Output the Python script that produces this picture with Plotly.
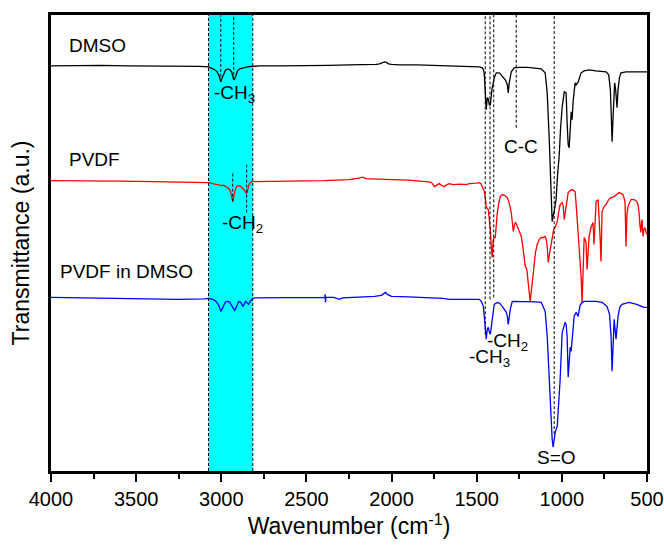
import plotly.graph_objects as go

# ---------------- data ----------------
dmso_wn = [4000, 3850, 3700, 3550, 3400, 3250, 3127, 3074, 3050, 3038, 3025, 3015, 3008, 3003, 2997,
           2986, 2975, 2962, 2950, 2939, 2932, 2927, 2921, 2915, 2905, 2892, 2870, 2845, 2820, 2775,
           2650, 2540, 2450, 2364, 2250, 2130, 2090, 2071, 2050, 2042, 2030, 2018, 2000, 1954, 1850,
           1750, 1660, 1560, 1485, 1467, 1460, 1455, 1450, 1444, 1438, 1432, 1426, 1420, 1414, 1409,
           1397, 1385, 1367, 1350, 1332, 1320, 1315, 1309, 1297, 1280, 1250, 1200, 1150, 1121, 1098,
           1086, 1074, 1063, 1057, 1050, 1045, 1039, 1034, 1025, 1016, 1008, 998, 986, 975, 969,
           963, 957, 951, 945, 940, 933, 922, 916, 904, 893, 887, 870, 840, 800, 740,
           725, 715, 710, 705, 700, 693, 690, 684, 680, 676, 670, 662, 653, 623, 560, 500]
dmso_t = [406, 406.5, 406.5, 406, 406, 405.5, 405.5, 405, 403.5, 402, 400, 397, 393, 390, 393,
          398, 402, 403, 402, 400, 396, 392, 393, 396, 401, 403, 404, 405, 405.5, 406,
          406, 406, 406.5, 406.5, 407, 407, 407.5, 408, 409, 410, 409.5, 408, 407.5, 407, 407,
          406.5, 406.5, 406, 405, 404, 402, 397, 382, 362, 374, 373, 367, 367, 377, 384,
          394, 399, 399, 395, 392, 387, 379, 389, 400, 404, 404.5, 404.5, 404, 403, 399,
          379, 332, 282, 250, 257, 260, 267, 272, 297, 315, 342, 365, 380, 379, 349,
          327, 324, 342, 360, 352, 372, 389, 387, 390, 396, 399, 401, 402, 401, 400,
          397, 382, 357, 330, 352, 382, 389, 382, 372, 364, 382, 394, 399, 400, 400, 400]

pvdf_wn = [4000, 3800, 3600, 3400, 3200, 3074, 3050, 3027, 3010, 2997, 2985, 2968, 2955, 2945, 2938,
           2933, 2928, 2920, 2910, 2900, 2892, 2880, 2865, 2856, 2851, 2845, 2835, 2822, 2800, 2600,
           2400, 2250, 2190, 2171, 2150, 2100, 2000, 1900, 1800, 1770, 1760, 1749, 1740, 1730, 1720,
           1705, 1690, 1675, 1661, 1640, 1600, 1561, 1544, 1500, 1485, 1475, 1467, 1455, 1450, 1444,
           1438, 1432, 1426, 1420, 1414, 1409, 1403, 1397, 1391, 1385, 1379, 1370, 1362, 1350, 1335,
           1320, 1310, 1297, 1290, 1285, 1279, 1274, 1268, 1262, 1250, 1238, 1227, 1215, 1209, 1204,
           1198, 1192, 1186, 1180, 1174, 1168, 1162, 1155, 1145, 1133, 1121, 1110, 1098, 1092, 1086,
           1080, 1074, 1068, 1057, 1048, 1039, 1027, 1018, 1010, 998, 992, 986, 980, 975, 968,
           963, 950, 940, 930, 922, 916, 910, 904, 893, 887, 881, 875, 869, 863, 858,
           852, 846, 840, 829, 823, 817, 811, 805, 799, 787, 781, 775, 770, 764, 752,
           741, 725, 711, 693, 680, 664, 650, 641, 635, 629, 623, 618, 612, 600, 594,
           575, 559, 553, 547, 542, 536, 532, 529, 526, 523, 518, 512, 505, 500]
pvdf_t = [291, 291, 290.5, 290, 289.5, 289, 288, 287, 287, 286, 286.5, 284, 283, 280, 275,
          270, 274, 281, 285, 286, 286, 284, 282, 279, 278, 282, 288, 290, 290, 290.5,
          291, 292, 293.5, 294.5, 293, 292.5, 292, 291.5, 290, 289.5, 288, 285, 286, 287, 288,
          286, 285, 287, 288, 287, 287.5, 287, 288, 288.5, 289, 288, 284, 280, 274, 265,
          263, 262, 252, 242, 224, 214, 232, 234, 234, 247, 259, 269, 275, 277, 276,
          274, 269, 259, 247, 240, 246, 249, 248, 245, 240, 235, 222, 205, 204, 200,
          189, 180, 170, 179, 189, 200, 209, 219, 227, 232, 234, 234, 235, 232, 225,
          209, 216, 222, 237, 242, 244, 250, 260, 267, 269, 266, 252, 260, 267, 275,
          279, 281, 282, 281, 280, 267, 254, 235, 210, 195, 169, 202, 234, 232, 229,
          202, 222, 235, 244, 247, 249, 227, 252, 270, 272, 257, 232, 210, 260, 265,
          267, 272, 274, 275, 277, 279, 278, 277, 274, 269, 225, 257, 265, 271, 272,
          272, 270, 267, 260, 247, 239, 250, 252, 242, 235, 242, 244, 239, 237]

mix_wn = [4000, 3800, 3600, 3400, 3250, 3100, 3074, 3050, 3030, 3015, 3008, 3003, 2997, 2985, 2975,
          2962, 2950, 2940, 2930, 2921, 2915, 2905, 2898, 2885, 2874, 2866, 2857, 2850, 2840, 2830,
          2815, 2800, 2600, 2450, 2392, 2390, 2388, 2386, 2340, 2306, 2290, 2200, 2100, 2060, 2040,
          2036, 2025, 2000, 1900, 1800, 1700, 1660, 1560, 1485, 1473, 1461, 1455, 1450, 1444, 1438,
          1432, 1426, 1420, 1414, 1409, 1397, 1379, 1365, 1350, 1326, 1320, 1315, 1309, 1303, 1291,
          1250, 1191, 1150, 1121, 1098, 1086, 1074, 1063, 1057, 1051, 1045, 1039, 1027, 1018, 1010,
          998, 981, 975, 969, 963, 957, 951, 945, 938, 928, 916, 904, 893, 880, 869,
          800, 764, 735, 720, 711, 705, 699, 693, 682, 676, 670, 660, 647, 606, 560, 518, 500]
mix_t = [174, 173.5, 173, 172, 172, 172.5, 173, 172, 170, 166, 162, 160, 162, 167, 169.5,
         170, 169, 166, 163, 161, 163, 168, 170, 169, 165, 167, 170, 169, 167, 170,
         173, 173.5, 174, 174, 174, 177, 169, 174, 174, 172, 173.5, 174, 175, 176, 178.5,
         179, 177, 175, 174.5, 174, 173, 172, 172, 172, 170, 165, 154, 139, 132, 142,
         144, 139, 137, 145, 152, 167, 169, 168, 165, 159, 155, 147, 154, 162, 170,
         170, 170, 169.5, 169, 160, 135, 92, 49, 32, 24, 32, 39, 45, 67, 92,
         139, 149, 147, 135, 94, 112, 124, 120, 137, 155, 159, 155, 166, 169, 170,
         170, 169, 165, 157, 135, 100, 127, 152, 132, 142, 155, 164, 167, 169, 167, 164, 164]

x_ticks = [4000, 3500, 3000, 2500, 2000, 1500, 1000, 500]
band_region = [3075, 2815]          # shaded C-H stretching region
# guide lines: wavenumber, lower end, upper end (a.u.)
guide_wn = [3003, 2927, 2933, 2851, 1450, 1422, 1400, 1268, 1045]
guide_lo = [390, 392, 270, 259, 137, 172, 174, 344, 37]
guide_hi = [457, 457, 299, 307, 457, 457, 457, 457, 457]
y_range = [0, 457]

FONT = "Liberation Sans, Arial, sans-serif"

fig = go.Figure()
fig.add_trace(go.Scatter(x=dmso_wn, y=dmso_t, mode="lines", line=dict(color="black", width=1.3), name="DMSO"))
fig.add_trace(go.Scatter(x=pvdf_wn, y=pvdf_t, mode="lines", line=dict(color="#ff0000", width=1.3), name="PVDF"))
fig.add_trace(go.Scatter(x=mix_wn, y=mix_t, mode="lines", line=dict(color="#0000ff", width=1.3), name="PVDF in DMSO"))

shapes = [dict(type="rect", xref="x", yref="paper", x0=band_region[0], x1=band_region[1], y0=0, y1=1,
               fillcolor="#00ffff", line=dict(width=0), layer="below")]
for xb in band_region:
    shapes.append(dict(type="line", xref="x", yref="paper", x0=xb, x1=xb, y0=0, y1=1,
                       line=dict(color="black", width=1, dash="3px,2px"), layer="above"))
for w, lo, hi in zip(guide_wn, guide_lo, guide_hi):
    shapes.append(dict(type="line", xref="x", yref="y", x0=w, x1=w, y0=lo, y1=hi,
                       line=dict(color="black", width=1, dash="3px,2px"), layer="above"))

ann_font = dict(family=FONT, size=19, color="black")
annotations = [
    dict(x=3906, y=426, text="DMSO", xanchor="left"),
    dict(x=3906, y=312, text="PVDF", xanchor="left"),
    dict(x=3959, y=200, text="PVDF in DMSO", xanchor="left"),
    dict(x=3056, y=378, text="-CH<sub>3</sub>", xanchor="left"),
    dict(x=3009, y=248, text="-CH<sub>2</sub>", xanchor="left"),
    dict(x=1350, y=325, text="C-C", xanchor="left"),
    dict(x=1450, y=129, text="-CH<sub>2</sub>", xanchor="left"),
    dict(x=1555, y=113, text="-CH<sub>3</sub>", xanchor="left"),
    dict(x=1033, y=14, text="S=O", xanchor="center"),
]
for a in annotations:
    a.update(xref="x", yref="y", showarrow=False, font=ann_font, yanchor="middle")

fig.update_layout(
    width=664, height=545,
    margin=dict(l=51, r=17, t=15, b=74, autoexpand=False),
    paper_bgcolor="white", plot_bgcolor="white",
    showlegend=False,
    font=dict(family=FONT, color="black"),
    shapes=shapes, annotations=annotations,
    xaxis=dict(range=[4000, 500], tickvals=x_ticks, ticks="outside", ticklen=8, tickwidth=2,
               tickcolor="black", showline=True, linecolor="black", linewidth=2.5, mirror=True,
               showgrid=False, zeroline=False, tickfont=dict(size=20, family=FONT), automargin=False,
               minor=dict(dtick=250, tick0=500, ticks="outside", ticklen=5, tickwidth=2, tickcolor="black", showgrid=False),
               title=dict(text="Wavenumber (cm<sup>-1</sup>)", font=dict(size=23, family=FONT), standoff=4)),
    yaxis=dict(range=y_range, showticklabels=False, ticks="", showline=True, linecolor="black",
               linewidth=2.5, mirror=True, showgrid=False, zeroline=False, automargin=False,
               title=dict(text="Transmittance (a.u.)", font=dict(size=23, family=FONT), standoff=13)),
)

fig.write_html("out.html", config={"displayModeBar": False},
               post_script="document.body.style.margin='0';document.body.style.overflow='hidden';")
